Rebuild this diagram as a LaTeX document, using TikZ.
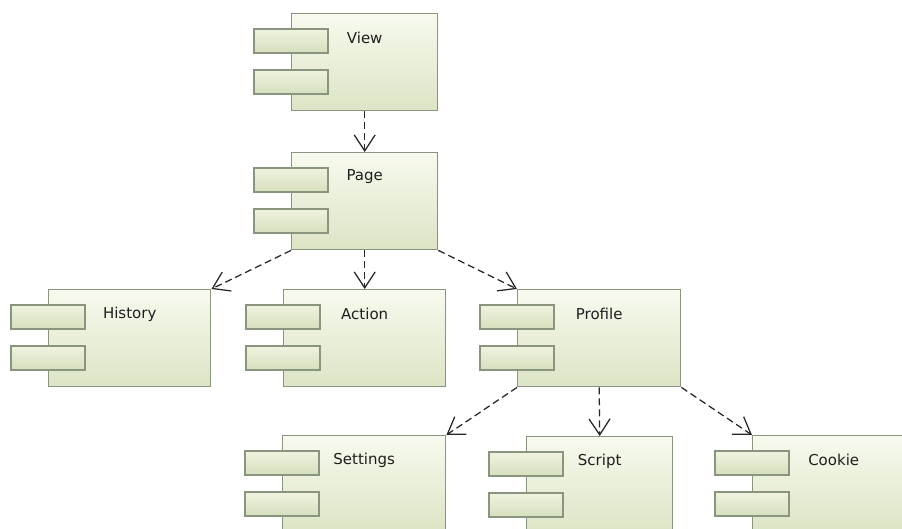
\documentclass[tikz,border=0pt]{standalone}
\usepackage{fontspec}
\setmainfont{DejaVu Sans}
\usetikzlibrary{calc}
\usetikzlibrary{arrows.meta}
\definecolor{boxline}{HTML}{8A9580}
\definecolor{boxtop}{HTML}{F7FAEE}
\definecolor{boxbot}{HTML}{DCE4C5}
\definecolor{porttop}{HTML}{EFF4E0}
\definecolor{portbot}{HTML}{D5DEBC}
\definecolor{depline}{HTML}{262626}
\definecolor{txt}{HTML}{1E1E1E}
\tikzset{
    comp/.style={draw=boxline, line width=1.4pt, top color=boxtop, bottom color=boxbot,
        anchor=north west, minimum height=97pt, inner sep=0pt},
    port/.style={draw=boxline, line width=1.2pt, top color=porttop, bottom color=portbot},
    lbl/.style={text=txt, font=\fontsize{15}{18}\selectfont, inner sep=0pt},
    dep/.style={draw=depline, line width=1.25pt, dash pattern=on 7pt off 4pt,
        -{Straight Barb[length=16pt, width=21pt, line width=1.25pt]}}
}

\begin{document}
\begin{tikzpicture}[x=1pt, y=-1pt]
        \useasboundingbox (0, 0) rectangle (902, 528);
        \clip (0, 0) rectangle (902, 528);

        \node [comp, minimum width=146pt] (view) at (291, 13) {};
        \node [comp, minimum width=146pt] (page) at (291, 152) {};
        \node [comp, minimum width=162pt] (history) at (48, 289) {};
        \node [comp, minimum width=162pt] (action) at (283, 289) {};
        \node [comp, minimum width=163pt] (profile) at (517, 289) {};
        \node [comp, minimum width=163pt] (settings) at (282, 435) {};
        \node [comp, minimum width=146pt] (script) at (526, 436) {};
        \node [comp, minimum width=162pt] (cookie) at (752, 435) {};

        \foreach \n in {view, page, history, action, profile, settings, script, cookie} {
            \draw [port] ($(\n.north west) + (-37, 16)$) rectangle +(74, 24);
            \draw [port] ($(\n.north west) + (-37, 57)$) rectangle +(74, 24);
        }

        \node [lbl] (viewtxt) at ($(view.north) + (0, 25)$) {View};
        \node [lbl] (pagetxt) at ($(page.north) + (0, 25)$) {Page};
        \node [lbl] (historytxt) at ($(history.north) + (0, 25)$) {History};
        \node [lbl] (actiontxt) at ($(action.north) + (0, 25)$) {Action};
        \node [lbl] (profiletxt) at ($(profile.north) + (0, 25)$) {Profile};
        \node [lbl] (settingstxt) at ($(settings.north) + (0, 25)$) {Settings};
        \node [lbl] (scripttxt) at ($(script.north) + (0, 25)$) {Script};
        \node [lbl] (cookietxt) at ($(cookie.north) + (0, 25)$) {Cookie};

        \draw [dep] (view.south) -- (page.north);
        \draw [dep] (page.south west) -- (history.north east);
        \draw [dep] (page.south) -- (action.north);
        \draw [dep] (page.south east) -- (profile.north west);
        \draw [dep] (profile.south west) -- (settings.north east);
        \draw [dep] (profile.south) -- (script.north);
        \draw [dep] (profile.south east) -- (cookie.north west);
    \end{tikzpicture}
\end{document}
